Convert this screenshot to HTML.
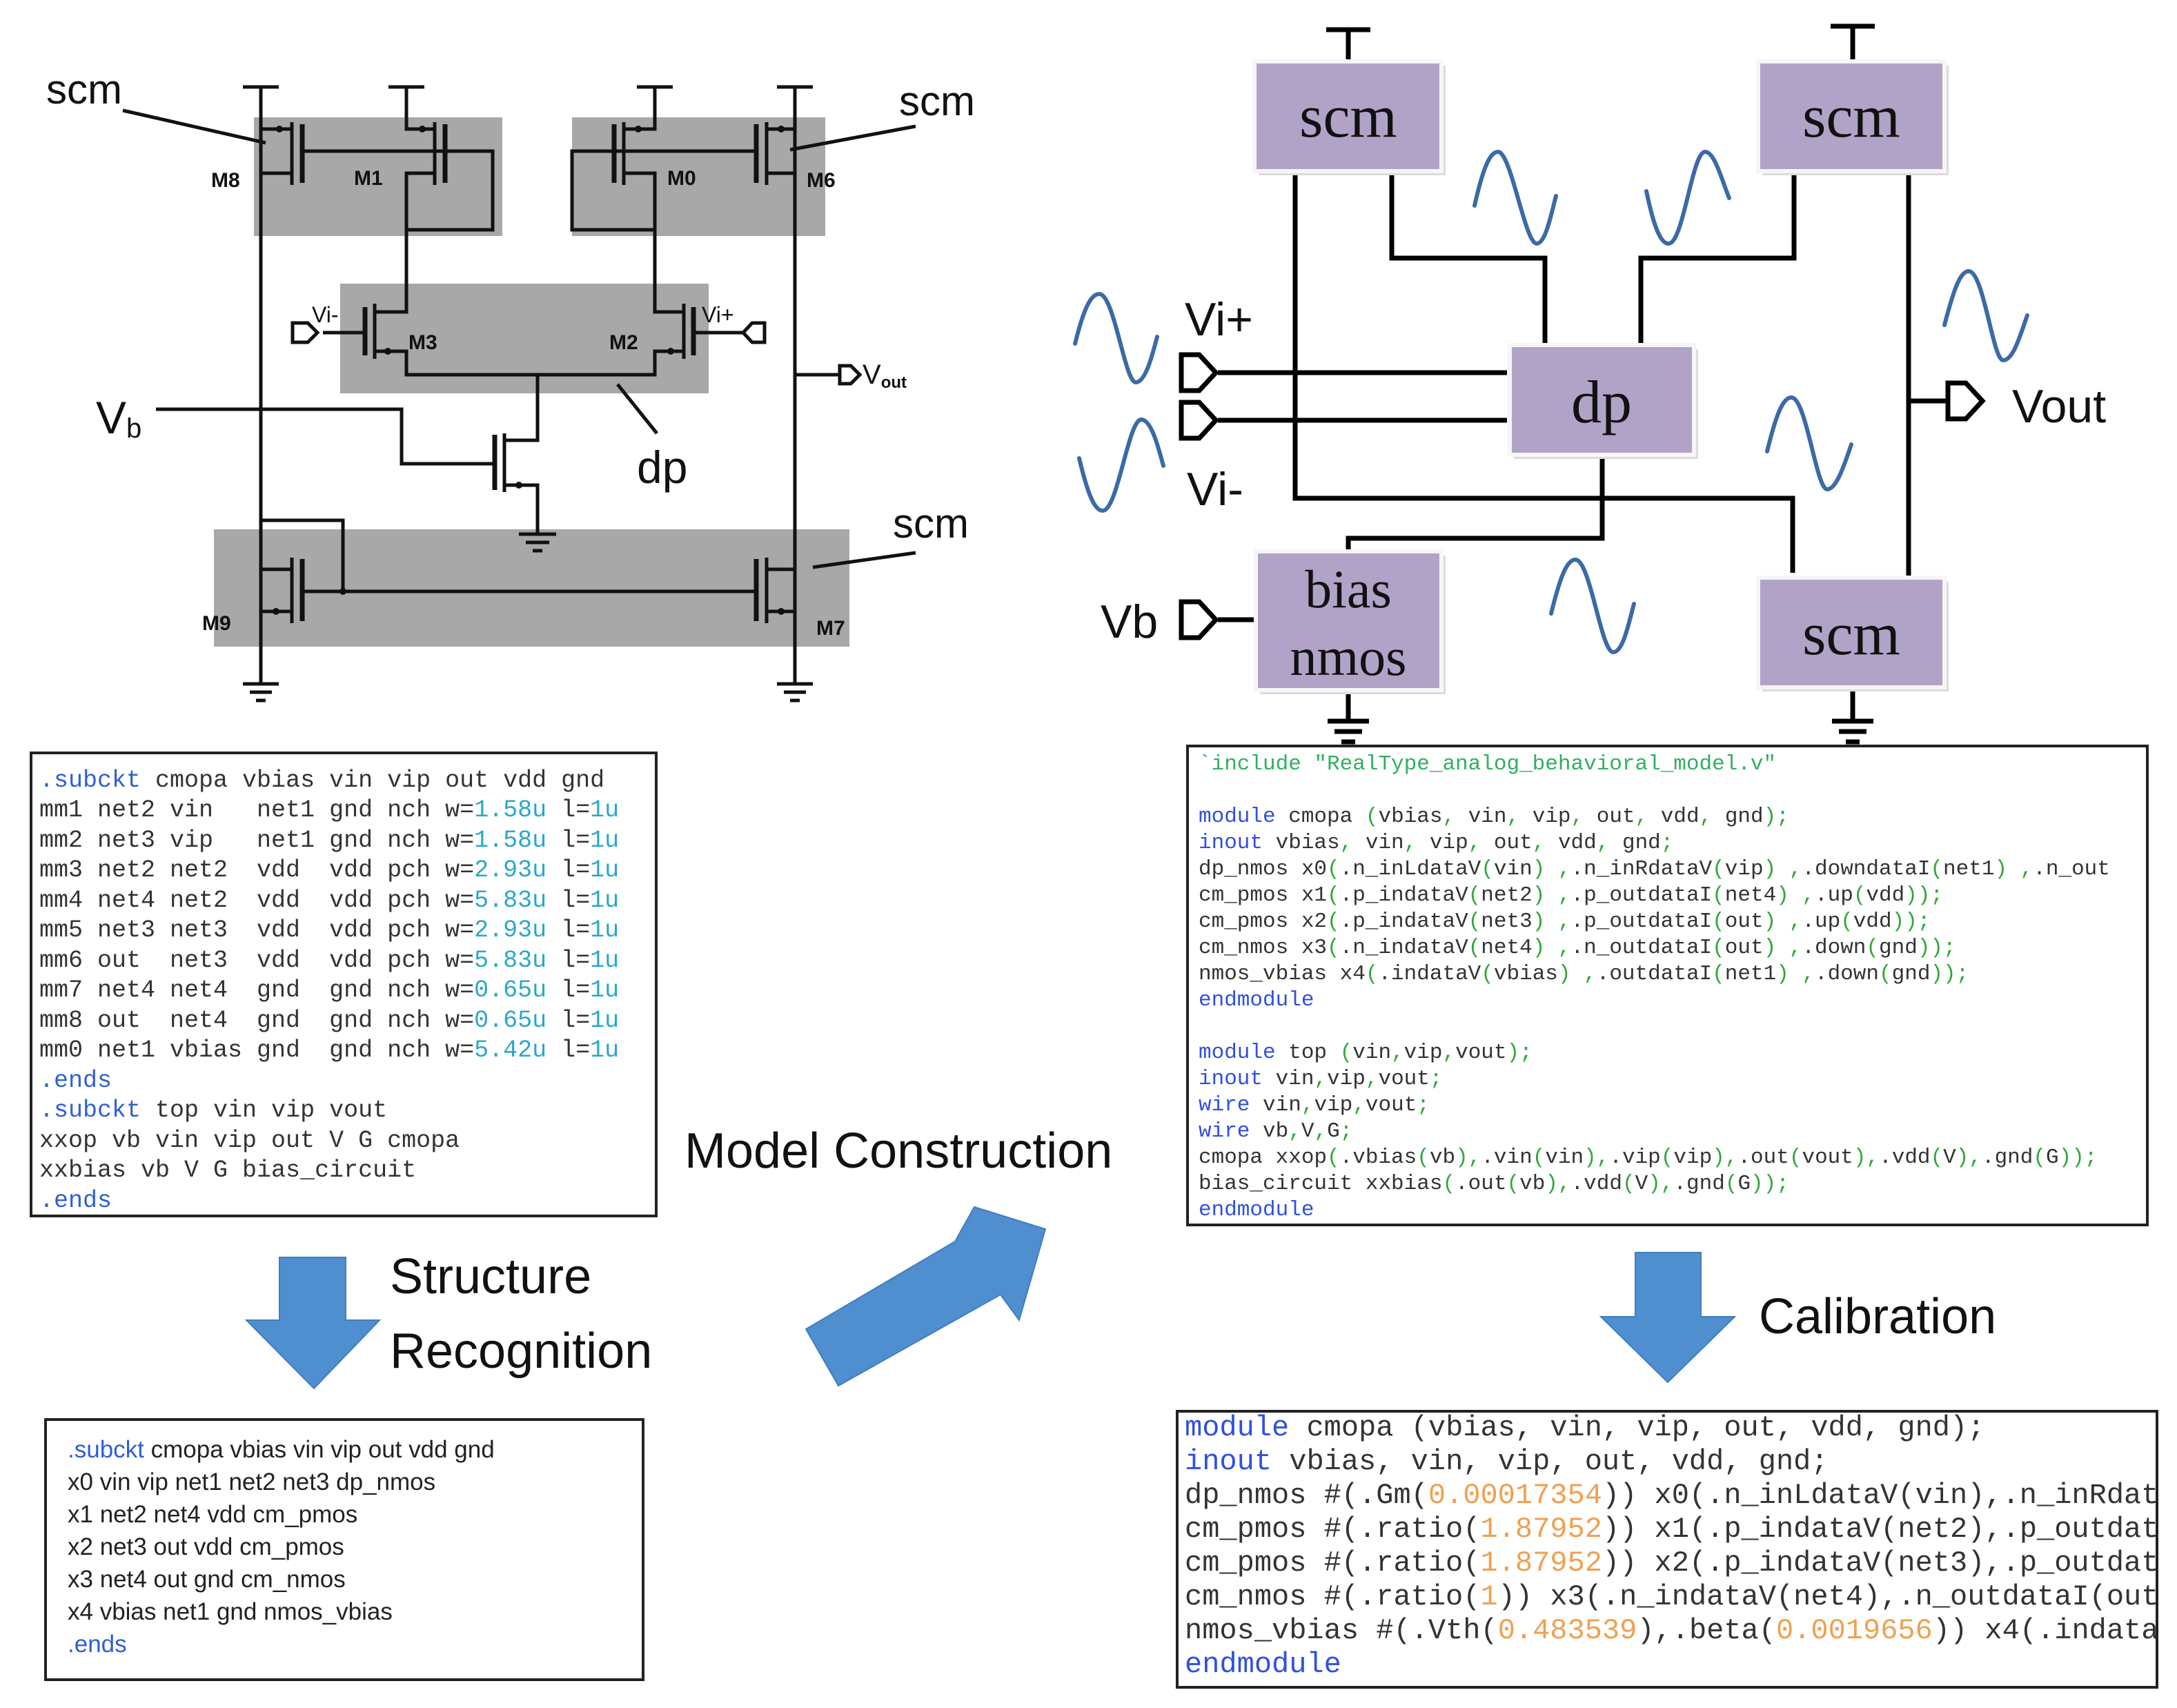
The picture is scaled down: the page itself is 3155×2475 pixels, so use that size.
<!DOCTYPE html>
<html><head><meta charset="utf-8"><style>
html,body{margin:0;padding:0;background:#fff;}
svg{display:block;}
.s{font-family:"Liberation Sans",sans-serif;}
.m{font-family:"Liberation Mono",monospace;white-space:pre;}
.m text,.m tspan{white-space:pre;}
.w{fill:none;stroke:#111;stroke-width:5;}
.bw{fill:none;stroke:#000;stroke-width:7;}
.sine{fill:none;stroke:#3b6aa6;stroke-width:6;stroke-linecap:round;}
.bl{fill:#2f5fd8;}
.cy{fill:#2aa8c8;}
.gr{fill:#2fa83a;}
.kb{fill:#3050e0;}
.or{fill:#f0a050;}
</style></head><body>
<svg width="3155" height="2475" viewBox="0 0 3155 2475" xmlns="http://www.w3.org/2000/svg">
<defs><clipPath id="c4"><rect x="1708" y="2047" width="1416" height="396"/></clipPath></defs>
<rect width="3155" height="2475" fill="#fff"/>

<rect x="368" y="170" width="360" height="172" fill="#a8a8a8"/>
<rect x="829" y="170" width="367" height="172" fill="#a8a8a8"/>
<rect x="493" y="411" width="534" height="159" fill="#a8a8a8"/>
<rect x="310" y="767" width="921" height="170" fill="#a8a8a8"/>
<g class="w">
<path d="M352,126h52 M563,126h52 M923,126h52 M1126,126h52"/>
<path d="M378,126V991 M1152,126V991"/>
<path d="M378,187H423 M423,177V268 M423,251H378"/>
<path d="M438,180V265" stroke-width="7"/>
<path d="M589,126V187H630 M630,177V268 M630,251H589V448"/>
<path d="M645,180V265" stroke-width="7"/>
<path d="M438,219H714V333H589"/>
<path d="M949,126V187H904 M904,177V268 M904,251H949V448"/>
<path d="M890,180V265" stroke-width="7"/>
<path d="M1096,219H829V333H949"/>
<path d="M1152,187H1111 M1111,177V268 M1111,251H1152"/>
<path d="M1096,180V265" stroke-width="7"/>
<path d="M589,448V452H543 M543,440V520 M543,509H589V543H949V509H991 M991,440V520 M991,452H949V448"/>
<path d="M529,445V515 M1005,445V515" stroke-width="7"/>
<path d="M468,482H529 M1005,482H1077"/>
<path d="M424,468h22l14,14l-14,14h-22z" fill="#fff"/>
<path d="M1108,468h-18l-13,14l13,14h18z" fill="#fff"/>
<path d="M779,543V638H731 M731,628V713 M731,703H779V774"/>
<path d="M717,630V710" stroke-width="7"/>
<path d="M717,672H582V593H226"/>
<path d="M752,774h54 M762,786h34 M772,798h14"/>
<path d="M378,825H423 M423,808V903 M423,886H378"/>
<path d="M438,810V900" stroke-width="7"/>
<path d="M438,857H1096 M378,754H497V857"/>
<path d="M1152,825H1111 M1111,808V903 M1111,886H1152"/>
<path d="M1096,810V900" stroke-width="7"/>
<path d="M352,991h52 M362,1003h32 M371,1015h14 M1126,991h52 M1136,1003h32 M1145,1015h14"/>
<path d="M1152,543H1217"/>
<path d="M1217,530h16l13,13l-13,13h-16z" fill="#fff"/>
<path d="M178,160L385,207 M1327,183L1145,217 M1327,801L1178,822 M895,557L952,628"/>
</g>
<g fill="#111">
<circle cx="405" cy="187" r="5"/><circle cx="612" cy="187" r="5"/><circle cx="925" cy="187" r="5"/><circle cx="1132" cy="187" r="5"/>
<circle cx="562" cy="509" r="5"/><circle cx="972" cy="509" r="5"/><circle cx="752" cy="703" r="5"/>
<circle cx="400" cy="886" r="5"/><circle cx="1132" cy="886" r="5"/><circle cx="497" cy="857" r="5"/>
</g>
<g class="s" fill="#111">
<text x="67" y="150" font-size="60">scm</text>
<text x="1303" y="167" font-size="60">scm</text>
<text x="1294" y="779" font-size="60">scm</text>
<text x="923" y="700" font-size="66">dp</text>
<text x="139" y="628" font-size="66">V<tspan font-size="40" dy="6">b</tspan></text>
<text x="1250" y="556" font-size="40">V<tspan font-size="24" dy="6" font-weight="bold">out</tspan></text>
<g font-size="30" font-weight="bold">
<text x="306" y="271">M8</text><text x="513" y="268">M1</text><text x="967" y="268">M0</text><text x="1169" y="271">M6</text>
<text x="592" y="506">M3</text><text x="883" y="506">M2</text>
<text x="293" y="913">M9</text><text x="1183" y="920">M7</text>
</g>
<text x="452" y="467" font-size="32">Vi-</text>
<text x="1017" y="467" font-size="32">Vi+</text>
</g>

<g class="bw">
<path d="M1922,43h64 M1954,43V89 M2653,38h64 M2685,38V89"/>
<path d="M1877,248V722H2598V830"/>
<path d="M2017,248V374H2239V500"/>
<path d="M2600,248V374H2378V500"/>
<path d="M2766,248V834 M2766,581H2821"/>
<path d="M2322,659V780H1954V799"/>
<path d="M1765,540H2184 M1765,609H2184 M1765,898H1820"/>
<path d="M1954,1000V1045 M1924,1045h60 M1934,1060h40 M1944,1075h20"/>
<path d="M2685,996V1045 M2655,1045h60 M2665,1060h40 M2675,1075h20"/>
<path d="M1712,514h26l24,26l-24,26h-26z M1712,583h26l24,26l-24,26h-26z M1712,872h26l24,26l-24,26h-26z M2823,555h26l24,26l-24,26h-26z" fill="#fff"/>
</g>
<g fill="#dcdcdc">
<rect x="1824" y="95" width="271" height="159"/><rect x="2554" y="95" width="270" height="159"/>
<rect x="2194" y="506" width="267" height="159"/><rect x="1826" y="805" width="269" height="201"/>
<rect x="2554" y="843" width="270" height="159"/>
</g>
<g fill="#b1a3c8" stroke="#f6f6f6" stroke-width="6">
<rect x="1818" y="89" width="271" height="159"/><rect x="2548" y="89" width="270" height="159"/>
<rect x="2188" y="500" width="267" height="159"/><rect x="1820" y="799" width="269" height="201"/>
<rect x="2548" y="837" width="270" height="159"/>
</g>
<g font-family="Liberation Serif,serif" font-size="88" fill="#111" text-anchor="middle">
<text x="1954" y="198">scm</text><text x="2683" y="198">scm</text>
<text x="2321" y="612">dp</text>
<text x="1954" y="880" font-size="78">bias</text><text x="1954" y="978" font-size="78">nmos</text>
<text x="2683" y="948">scm</text>
</g>
<g class="s" fill="#111" font-size="68">
<text x="1717" y="486">Vi+</text>
<text x="1720" y="732">Vi-</text>
<text x="1595" y="924">Vb</text>
<text x="2916" y="612">Vout</text>
</g>
<g class="sine">
<path d="M2137,298C2150,240 2160,220 2171,220C2190,220 2210,353 2227,353C2240,353 2248,310 2255,284"/>
<path d="M2386,277C2395,320 2405,353 2418,353C2440,353 2452,220 2471,220C2485,220 2495,260 2506,287"/>
<path d="M1558,498C1570,450 1580,426 1593,426C1615,426 1630,554 1646,554C1660,554 1670,515 1677,488"/>
<path d="M1564,664C1575,710 1585,740 1598,740C1620,740 1635,608 1654,608C1668,608 1678,645 1686,675"/>
<path d="M2818,471C2830,425 2840,393 2853,393C2875,393 2888,522 2903,522C2918,522 2928,485 2938,457"/>
<path d="M2561,654C2573,605 2583,576 2596,576C2618,576 2632,709 2648,709C2662,709 2674,670 2683,644"/>
<path d="M2248,889C2260,840 2270,811 2283,811C2305,811 2320,945 2338,945C2352,945 2360,905 2368,875"/>
</g>

<rect x="45" y="1091" width="906" height="671" fill="#fff" stroke="#222" stroke-width="4"/>
<g class="m" font-size="35" fill="#333">
<text x="57" y="1140"><tspan class="bl">.subckt</tspan> cmopa vbias vin vip out vdd gnd</text>
<text x="57" y="1183">mm1 net2 vin   net1 gnd nch w=<tspan class="cy">1.58u</tspan> l=<tspan class="cy">1u</tspan></text>
<text x="57" y="1227">mm2 net3 vip   net1 gnd nch w=<tspan class="cy">1.58u</tspan> l=<tspan class="cy">1u</tspan></text>
<text x="57" y="1270">mm3 net2 net2  vdd  vdd pch w=<tspan class="cy">2.93u</tspan> l=<tspan class="cy">1u</tspan></text>
<text x="57" y="1314">mm4 net4 net2  vdd  vdd pch w=<tspan class="cy">5.83u</tspan> l=<tspan class="cy">1u</tspan></text>
<text x="57" y="1357">mm5 net3 net3  vdd  vdd pch w=<tspan class="cy">2.93u</tspan> l=<tspan class="cy">1u</tspan></text>
<text x="57" y="1401">mm6 out  net3  vdd  vdd pch w=<tspan class="cy">5.83u</tspan> l=<tspan class="cy">1u</tspan></text>
<text x="57" y="1444">mm7 net4 net4  gnd  gnd nch w=<tspan class="cy">0.65u</tspan> l=<tspan class="cy">1u</tspan></text>
<text x="57" y="1488">mm8 out  net4  gnd  gnd nch w=<tspan class="cy">0.65u</tspan> l=<tspan class="cy">1u</tspan></text>
<text x="57" y="1531">mm0 net1 vbias gnd  gnd nch w=<tspan class="cy">5.42u</tspan> l=<tspan class="cy">1u</tspan></text>
<text x="57" y="1575" class="bl">.ends</text>
<text x="57" y="1618"><tspan class="bl">.subckt</tspan> top vin vip vout</text>
<text x="57" y="1662">xxop vb vin vip out V G cmopa</text>
<text x="57" y="1705">xxbias vb V G bias_circuit</text>
<text x="57" y="1749" class="bl">.ends</text>
</g>

<g fill="#4f8fcf" stroke="#3f7fbf" stroke-width="2">
<path d="M405,1822H501V1913H550L455,2012L357,1913H405Z"/>
<path d="M1168,1926L1384,1799L1412,1749L1515,1781L1477,1913L1450,1876L1215,2008Z"/>
<path d="M2370,1815H2465V1908H2514L2417,2003L2320,1908H2370Z"/>
</g>
<g class="s" fill="#111" font-size="72">
<text x="565" y="1874">Structure</text>
<text x="565" y="1982">Recognition</text>
<text x="992" y="1692">Model Construction</text>
<text x="2549" y="1932">Calibration</text>
</g>

<rect x="66" y="2057" width="866" height="377" fill="#fff" stroke="#222" stroke-width="4"/>
<g class="s" font-size="35" fill="#222">
<text x="98" y="2112"><tspan class="bl">.subckt</tspan> cmopa vbias vin vip out vdd gnd</text>
<text x="98" y="2159">x0 vin vip net1 net2 net3 dp_nmos</text>
<text x="98" y="2206">x1 net2 net4 vdd cm_pmos</text>
<text x="98" y="2253">x2 net3 out vdd cm_pmos</text>
<text x="98" y="2300">x3 net4 out gnd cm_nmos</text>
<text x="98" y="2347">x4 vbias net1 gnd nmos_vbias</text>
<text x="98" y="2394" class="bl">.ends</text>
</g>

<rect x="1721" y="1081" width="1391" height="694" fill="#fff" stroke="#222" stroke-width="4"/>
<g class="m" font-size="31" fill="#333">
<text x="1737" y="1115" fill="#30b060">`include "RealType_analog_behavioral_model.v"</text>
<text x="1737" y="1191"><tspan class="kb">module</tspan> cmopa <tspan class="gr">(</tspan>vbias<tspan class="gr">,</tspan> vin<tspan class="gr">,</tspan> vip<tspan class="gr">,</tspan> out<tspan class="gr">,</tspan> vdd<tspan class="gr">,</tspan> gnd<tspan class="gr">);</tspan></text>
<text x="1737" y="1229"><tspan class="kb">inout</tspan> vbias<tspan class="gr">,</tspan> vin<tspan class="gr">,</tspan> vip<tspan class="gr">,</tspan> out<tspan class="gr">,</tspan> vdd<tspan class="gr">,</tspan> gnd<tspan class="gr">;</tspan></text>
<text x="1737" y="1267">dp_nmos x0<tspan class="gr">(</tspan>.n_inLdataV<tspan class="gr">(</tspan>vin<tspan class="gr">) ,</tspan>.n_inRdataV<tspan class="gr">(</tspan>vip<tspan class="gr">) ,</tspan>.downdataI<tspan class="gr">(</tspan>net1<tspan class="gr">) ,</tspan>.n_out</text>
<text x="1737" y="1305">cm_pmos x1<tspan class="gr">(</tspan>.p_indataV<tspan class="gr">(</tspan>net2<tspan class="gr">) ,</tspan>.p_outdataI<tspan class="gr">(</tspan>net4<tspan class="gr">) ,</tspan>.up<tspan class="gr">(</tspan>vdd<tspan class="gr">));</tspan></text>
<text x="1737" y="1343">cm_pmos x2<tspan class="gr">(</tspan>.p_indataV<tspan class="gr">(</tspan>net3<tspan class="gr">) ,</tspan>.p_outdataI<tspan class="gr">(</tspan>out<tspan class="gr">) ,</tspan>.up<tspan class="gr">(</tspan>vdd<tspan class="gr">));</tspan></text>
<text x="1737" y="1381">cm_nmos x3<tspan class="gr">(</tspan>.n_indataV<tspan class="gr">(</tspan>net4<tspan class="gr">) ,</tspan>.n_outdataI<tspan class="gr">(</tspan>out<tspan class="gr">) ,</tspan>.down<tspan class="gr">(</tspan>gnd<tspan class="gr">));</tspan></text>
<text x="1737" y="1419">nmos_vbias x4<tspan class="gr">(</tspan>.indataV<tspan class="gr">(</tspan>vbias<tspan class="gr">) ,</tspan>.outdataI<tspan class="gr">(</tspan>net1<tspan class="gr">) ,</tspan>.down<tspan class="gr">(</tspan>gnd<tspan class="gr">));</tspan></text>
<text x="1737" y="1457" class="kb">endmodule</text>
<text x="1737" y="1533"><tspan class="kb">module</tspan> top <tspan class="gr">(</tspan>vin<tspan class="gr">,</tspan>vip<tspan class="gr">,</tspan>vout<tspan class="gr">);</tspan></text>
<text x="1737" y="1571"><tspan class="kb">inout</tspan> vin<tspan class="gr">,</tspan>vip<tspan class="gr">,</tspan>vout<tspan class="gr">;</tspan></text>
<text x="1737" y="1609"><tspan class="kb">wire</tspan> vin<tspan class="gr">,</tspan>vip<tspan class="gr">,</tspan>vout<tspan class="gr">;</tspan></text>
<text x="1737" y="1647"><tspan class="kb">wire</tspan> vb<tspan class="gr">,</tspan>V<tspan class="gr">,</tspan>G<tspan class="gr">;</tspan></text>
<text x="1737" y="1685">cmopa xxop<tspan class="gr">(</tspan>.vbias<tspan class="gr">(</tspan>vb<tspan class="gr">),</tspan>.vin<tspan class="gr">(</tspan>vin<tspan class="gr">),</tspan>.vip<tspan class="gr">(</tspan>vip<tspan class="gr">),</tspan>.out<tspan class="gr">(</tspan>vout<tspan class="gr">),</tspan>.vdd<tspan class="gr">(</tspan>V<tspan class="gr">),</tspan>.gnd<tspan class="gr">(</tspan>G<tspan class="gr">));</tspan></text>
<text x="1737" y="1723">bias_circuit xxbias<tspan class="gr">(</tspan>.out<tspan class="gr">(</tspan>vb<tspan class="gr">),</tspan>.vdd<tspan class="gr">(</tspan>V<tspan class="gr">),</tspan>.gnd<tspan class="gr">(</tspan>G<tspan class="gr">));</tspan></text>
<text x="1737" y="1761" class="kb">endmodule</text>
</g>

<rect x="1706" y="2045" width="1420" height="400" fill="#fff" stroke="#222" stroke-width="4"/>
<g class="m" font-size="42" fill="#333" clip-path="url(#c4)">
<text x="1717" y="2080"><tspan class="kb">module</tspan> cmopa (vbias, vin, vip, out, vdd, gnd);</text>
<text x="1717" y="2129"><tspan class="kb">inout</tspan> vbias, vin, vip, out, vdd, gnd;</text>
<text x="1717" y="2178">dp_nmos #(.Gm(<tspan class="or">0.00017354</tspan>)) x0(.n_inLdataV(vin),.n_inRdataV(vip)</text>
<text x="1717" y="2227">cm_pmos #(.ratio(<tspan class="or">1.87952</tspan>)) x1(.p_indataV(net2),.p_outdataI(net4)</text>
<text x="1717" y="2276">cm_pmos #(.ratio(<tspan class="or">1.87952</tspan>)) x2(.p_indataV(net3),.p_outdataI(out)</text>
<text x="1717" y="2325">cm_nmos #(.ratio(<tspan class="or">1</tspan>)) x3(.n_indataV(net4),.n_outdataI(out)</text>
<text x="1717" y="2374">nmos_vbias #(.Vth(<tspan class="or">0.483539</tspan>),.beta(<tspan class="or">0.0019656</tspan>)) x4(.indataV(vbias)</text>
<text x="1717" y="2423" class="kb">endmodule</text>
</g>
</svg>
</body></html>
